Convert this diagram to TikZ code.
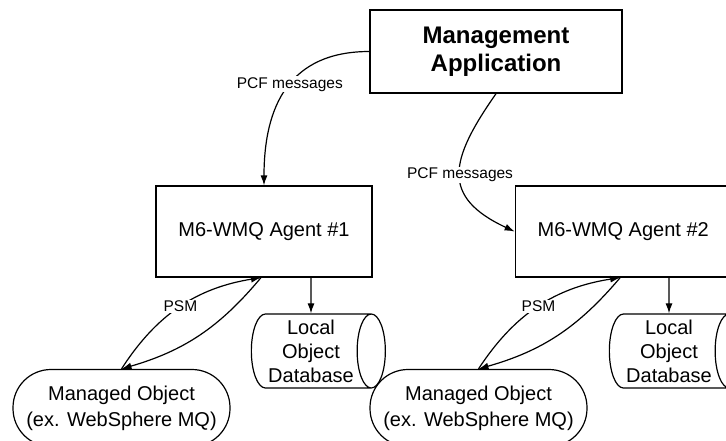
\documentclass[tikz,border=0pt]{standalone}
\usepackage{fontspec}
\setmainfont{Liberation Sans}
\usetikzlibrary{shapes.geometric, arrows.meta, positioning, shadows}

\begin{document}
\begin{tikzpicture}[
        x=1pt, y=1pt,
        box/.style={rectangle, draw, line width=1.2pt, minimum width=216pt, minimum height=91pt, text centered, font=\fontsize{20}{24}\selectfont},
        mgmtbox/.style={rectangle, draw, fill=white, line width=1.4pt, minimum width=252pt, minimum height=83pt, align=center, font=\bfseries\fontsize{24}{28}\selectfont, drop shadow={shadow xshift=1.2pt, shadow yshift=-1.2pt, fill=black!45, opacity=1}},
        store/.style={cylinder, draw, line width=1.2pt, shape aspect=0.45, minimum width=74pt, minimum height=134pt, inner sep=0pt, align=center, font=\fontsize{20}{24}\selectfont},
        obj/.style={rectangle, rounded corners=38pt, draw, line width=1.2pt, minimum width=217pt, minimum height=77pt, align=center, font=\fontsize{20}{26}\selectfont},
        arrow/.style={line width=1.2pt, ->, >={Latex[length=10pt,width=7pt]}},
        msg/.style={fill=white, inner sep=1pt, font=\fontsize{15.5}{18}\selectfont}
    ]
        \useasboundingbox (0,0) rectangle (726,-440);

        % Top (manager)
        \node[mgmtbox] (mgmt) at (496,-51.5) {Management\\Application};

        % Middle row (agents)
        \node[box] (agent1) at (264,-231.5) {M6-WMQ Agent \#1};
        \node[box, right=142pt of agent1] (agent2) {M6-WMQ Agent \#2};

        % Bottom row (objects and stores)
        \node[obj] (mobj1) at (121.5,-408) {Managed Object\\(ex. WebSphere MQ)};
        \node[obj] (mobj2) at (478.5,-408) {Managed Object\\(ex. WebSphere MQ)};
        \node[store] (db1) at (311,-351) {Local\\Object\\Database};
        \node[store] (db2) at (669,-351) {Local\\Object\\Database};

        % Edges
        \draw[arrow] (mgmt.west) to[out=180, in=90, looseness=1.2] node[msg, pos=0.47] {PCF messages} (agent1.north);
        \draw[arrow] (mgmt.south) to[out=235, in=155, looseness=1.5] node[msg] {PCF messages} (agent2.west);

        \draw[arrow] (mobj1.north) to[bend left=24] node[msg] {PSM} ([xshift=-3pt]agent1.south);
        \draw[arrow] ([xshift=-3pt]agent1.south) to[bend left=17] (mobj1.north);
        \draw[arrow] (mobj2.north) to[bend left=24] node[msg] {PSM} ([xshift=-3pt]agent2.south);
        \draw[arrow] ([xshift=-3pt]agent2.south) to[bend left=17] (mobj2.north);

        \draw[arrow] (agent1.south -| db1) -- (db1);
        \draw[arrow] (agent2.south -| db2) -- (db2);
    \end{tikzpicture}
\end{document}
